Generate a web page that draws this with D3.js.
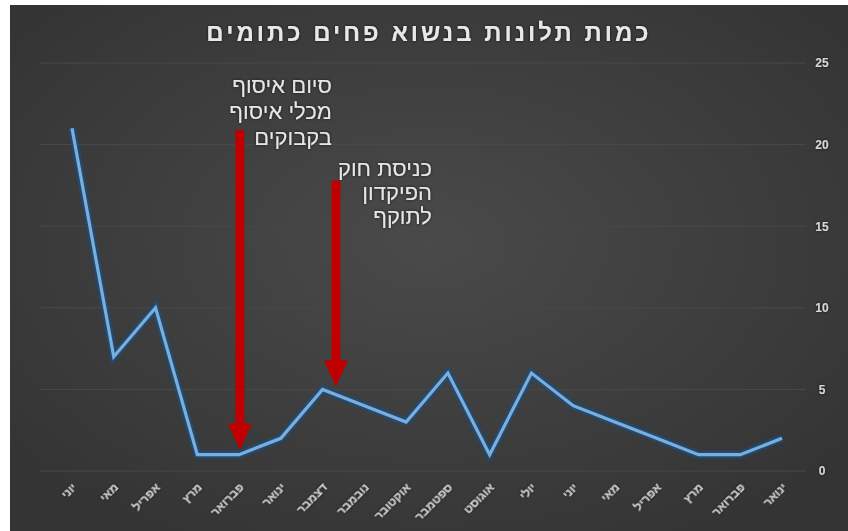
<!DOCTYPE html>
<html><head><meta charset="utf-8">
<script src="https://cdn.jsdelivr.net/npm/d3@7"></script>
<style>html,body{margin:0;padding:0;background:#fff;}svg{display:block;}</style>
</head><body>
<svg id="c" width="848" height="531"></svg>
<script>
const title = "כמות תלונות בנשוא פחים כתומים";
const months = ["יוני","מאי","אפריל","מרץ","פברואר","ינואר","דצמבר","נובמבר","אוקטובר","ספטמבר","אוגוסט","יולי","יוני","מאי","אפריל","מרץ","פברואר","ינואר"];
const complaints = [21,7,10,1,1,2,5,4,3,6,1,6,4,3,2,1,1,2];
const yTicks = [0,5,10,15,20,25];
const note1Lines = ["סיום איסוף","מכלי איסוף","בקבוקים"];
const note2Lines = ["כניסת חוק","הפיקדון","לתוקף"];
// arrow annotations: category index, offset in steps, top value, tip value
const arrow1 = {idx: 4, shift: 0.02, top: 20.9, tip: 1.3};
const arrow2 = {idx: 6, shift: 0.32, top: 17.8, tip: 5.2};

const svg = d3.select("#c");
const W = 848, H = 531;
const defs = svg.append("defs");
const rg = defs.append("radialGradient").attr("id","bg").attr("cx","50%").attr("cy","45%").attr("r","65%");
rg.append("stop").attr("offset","0%").attr("stop-color","#4a4a4a");
rg.append("stop").attr("offset","100%").attr("stop-color","#343434");
const glow = defs.append("filter").attr("id","glow").attr("x","-10%").attr("y","-10%").attr("width","120%").attr("height","120%");
glow.append("feGaussianBlur").attr("stdDeviation",1.2);
const tglow = defs.append("filter").attr("id","tglow").attr("x","-20%").attr("y","-20%").attr("width","140%").attr("height","140%");
tglow.append("feGaussianBlur").attr("in","SourceAlpha").attr("stdDeviation",1.5).attr("result","b");
tglow.append("feFlood").attr("flood-color","#111").attr("flood-opacity",0.7);
tglow.append("feComposite").attr("in2","b").attr("operator","in").attr("result","s");
const m = tglow.append("feMerge"); m.append("feMergeNode").attr("in","s"); m.append("feMergeNode").attr("in","SourceGraphic");

svg.append("rect").attr("x",10).attr("y",5).attr("width",W-10).attr("height",H-5).attr("fill","url(#bg)");

const x = d3.scalePoint().domain(d3.range(months.length)).range([72, 782]);
const step = x.step();
const y = d3.scaleLinear().domain([0,25]).range([471, 63]);

// gridlines
svg.append("g").selectAll("line").data(yTicks).join("line")
  .attr("x1",40).attr("x2",806).attr("y1",d=>y(d)).attr("y2",d=>y(d))
  .attr("stroke","#494949").attr("stroke-width",1);

// y axis on right
const yAxis = d3.axisRight(y).tickValues(yTicks).tickSize(0).tickPadding(0);
const ya = svg.append("g").attr("transform","translate(822,0)").call(yAxis);
ya.select(".domain").remove();
ya.selectAll("text").attr("text-anchor","middle").attr("x",0)
  .attr("fill","#d6d6d6").style("font-family","Liberation Sans, Arial, sans-serif")
  .style("font-size","12px").style("font-weight","bold").attr("filter","url(#tglow)");

// x axis
const xAxis = d3.axisBottom(x).tickSize(0).tickFormat(i=>months[i]);
const xa = svg.append("g").attr("transform","translate(0,471)").call(xAxis);
xa.select(".domain").remove();
xa.selectAll("text")
  .attr("text-anchor","end").attr("x",0).attr("y",0).attr("dy","0")
  .attr("transform","translate(5,17) rotate(-45)")
  .attr("fill","#d0d0d0").style("font-family","Liberation Sans, Arial, sans-serif")
  .style("font-size","12px").style("font-weight","bold").attr("filter","url(#tglow)");

// line
const line = d3.line().x((d,i)=>x(i)).y(d=>y(d));
svg.append("path").datum(complaints).attr("d",line).attr("fill","none")
  .attr("stroke","#1f4f80").attr("stroke-width",7).attr("stroke-linejoin","miter").attr("filter","url(#glow)").attr("opacity",0.9);
svg.append("path").datum(complaints).attr("d",line).attr("fill","none")
  .attr("stroke","#7aaedd").attr("stroke-width",3.2).attr("stroke-linejoin","miter");

// arrows
function arrow(a){
  const ax = x(a.idx) + a.shift*step;
  const y0 = y(a.top), y1 = y(a.tip);
  const hw = 12, hl = 26, sw = 4.5;
  const pts = [[ax-sw,y0],[ax+sw,y0],[ax+sw,y1-hl],[ax+hw,y1-hl],[ax,y1],[ax-hw,y1-hl],[ax-sw,y1-hl]];
  svg.append("path").attr("d","M"+pts.map(p=>p.join(",")).join("L")+"Z").attr("fill","#c00000");
}
arrow(arrow1); arrow(arrow2);

// annotation texts
function note(lines, rx, y0, lh){
  const g = svg.append("text").attr("direction","rtl").attr("text-anchor","start")
    .attr("fill","#e6e6e6").style("font-family","Liberation Sans, Arial, sans-serif")
    .style("font-size","22px").attr("filter","url(#tglow)");
  lines.forEach((t,i)=>g.append("tspan").attr("x",rx).attr("y",y0+i*lh).text(t));
}
note(note1Lines, 332, 93, 26);
note(note2Lines, 432, 176, 24);

// title
svg.append("text").attr("x",429).attr("y",41).attr("text-anchor","middle").attr("direction","rtl")
  .attr("fill","#e8e8e8").style("font-family","Liberation Sans, Arial, sans-serif")
  .style("font-size","24px").style("font-weight","bold").style("letter-spacing","3px")
  .attr("filter","url(#tglow)").text(title);
</script>
</body></html>
